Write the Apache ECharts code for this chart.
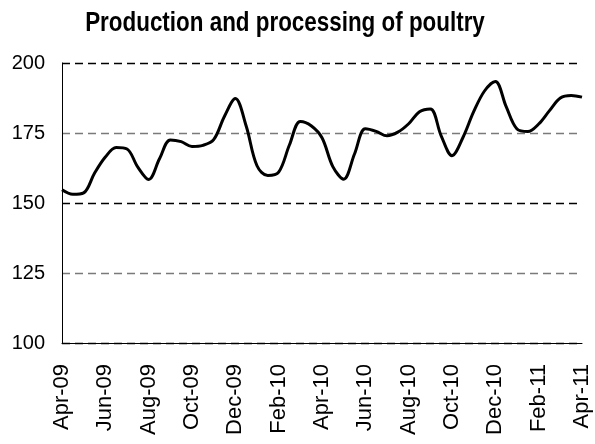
<!DOCTYPE html>
<html>
<head>
<meta charset="utf-8">
<script src="https://cdn.jsdelivr.net/npm/echarts@6/dist/echarts.min.js"></script>
<style>
html,body{margin:0;padding:0;background:#fff;}
#chart{width:595px;height:444px;}
</style>
</head>
<body>
<div id="chart"></div>
<script>
// Month labels (Apr-09 .. Apr-11)
var monthLabels = ['Apr-09','May-09','Jun-09','Jul-09','Aug-09','Sep-09','Oct-09','Nov-09','Dec-09',
  'Jan-10','Feb-10','Mar-10','Apr-10','May-10','Jun-10','Jul-10','Aug-10','Sep-10','Oct-10','Nov-10','Dec-10',
  'Jan-11','Feb-11','Mar-11','Apr-11'];

// Semi-monthly readings (start of month, mid-month)
var poultryIndex = [
  154.7, 153.1, 153.6, 160.6, 166.4, 169.8, 169.3, 162.8, 158.4, 165.8,
  172.5, 171.9, 170.2, 170.6, 172.6, 181.0, 187.3, 177.5, 163.3, 159.8,
  161.0, 170.8, 179.1, 177.6, 173.3, 163.0, 158.5, 167.5, 176.5, 175.6,
  174.0, 175.3, 178.3, 182.6, 183.6, 174.0, 166.9, 173.3, 182.6, 190.0,
  193.4, 184.4, 176.4, 175.5, 178.2, 183.0, 187.5, 188.4, 187.8
];

var yTicks = {min: 100, max: 200, step: 25};
var titleText = 'Production and processing of poultry';

// Build half-month categories from month labels
var categories = [];
monthLabels.forEach(function (m, i) {
  categories.push(m);
  if (i < monthLabels.length - 1) categories.push(m + ' mid');
});

var chart = echarts.init(document.getElementById('chart'), null, {renderer: 'canvas'});
chart.setOption({
  animation: false,
  backgroundColor: '#ffffff',
  graphic: [{
    type: 'text',
    x: 285,
    y: 24,
    scaleX: 0.83,
    silent: true,
    style: {
      text: titleText,
      font: 'bold 27px "Liberation Sans", Arial, sans-serif',
      fill: '#000',
      align: 'center',
      verticalAlign: 'middle'
    }
  }],
  grid: {left: 62, right: 13, top: 63, bottom: 101, containLabel: false},
  xAxis: {
    type: 'category',
    data: categories,
    boundaryGap: false,
    axisLine: {show: true, lineStyle: {color: '#000', width: 1}},
    axisTick: {show: false},
    splitLine: {show: false},
    axisLabel: {
      interval: 3,
      rotate: 90,
      margin: 21,
      fontSize: 22,
      fontFamily: '"Liberation Sans", Arial, sans-serif',
      color: '#000',
      formatter: function (v) { return v.indexOf(' mid') >= 0 ? '' : v; }
    }
  },
  yAxis: {
    type: 'value',
    min: yTicks.min,
    max: yTicks.max,
    interval: yTicks.step,
    axisLine: {show: true, lineStyle: {color: '#000', width: 1}},
    axisTick: {show: false},
    axisLabel: {
      margin: 17,
      fontSize: 20,
      fontFamily: '"Liberation Sans", Arial, sans-serif',
      color: '#000'
    },
    splitLine: {
      show: true,
      lineStyle: {color: ['#000000', '#7a7a7a'], width: 1.3, type: [8, 5]}
    }
  },
  series: [{
    type: 'line',
    data: poultryIndex,
    smooth: 0.35,
    symbol: 'none',
    lineStyle: {color: '#000', width: 3}
  }]
});
</script>
</body>
</html>
